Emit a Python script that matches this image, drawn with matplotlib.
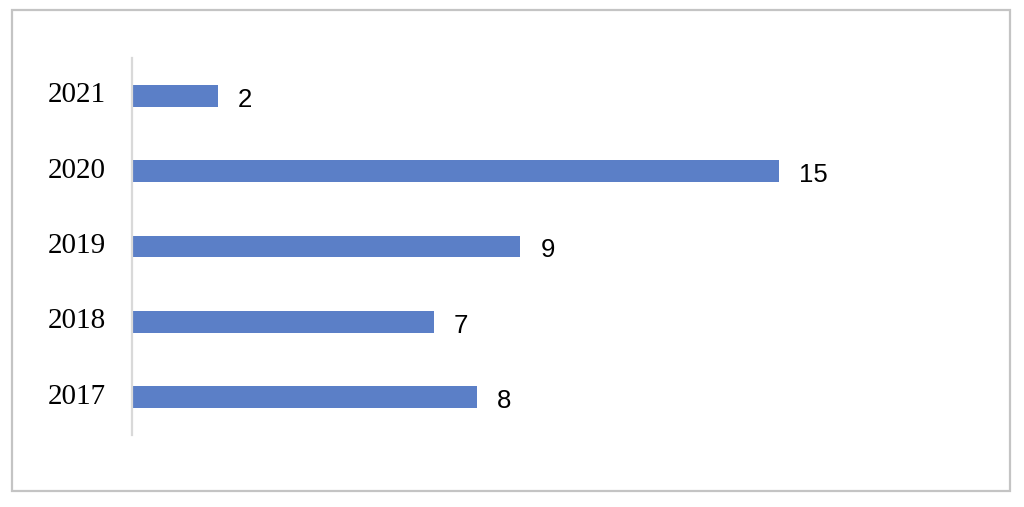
import matplotlib.pyplot as plt
from matplotlib.patches import Rectangle
from matplotlib.transforms import ScaledTranslation

years = ['2017', '2018', '2019', '2020', '2021']
counts = [8, 7, 9, 15, 2]

fig = plt.figure(figsize=(10.24, 5.07), dpi=100)
fig.patch.set_facecolor('white')

# light grey frame around the whole chart
fig.patches.append(Rectangle((12 / 1024, 16 / 507), 998 / 1024, 481 / 507,
                             transform=fig.transFigure, fill=False,
                             edgecolor='#C4C4C4', linewidth=1.6))

ax = fig.add_axes([132 / 1024, 72 / 507, 820 / 1024, 377 / 507])
pos = range(len(years))
ax.barh(pos, counts, height=0.29, color='#5B7FC7')

# value labels sit a little below the bar centre, as in the original
down = ScaledTranslation(0, -0.04, fig.dpi_scale_trans)
for y, v in zip(pos, counts):
    ax.text(v + 0.46, y, str(v), va='center', ha='left',
            fontsize=18.5, family='Liberation Sans', color='black',
            transform=ax.transData + down)

ax.set_xlim(0, 19)
ax.set_ylim(-0.5, 4.5)
ax.set_yticks(list(pos))
ax.set_yticklabels(years, family='Liberation Serif', fontsize=21)
ax.tick_params(axis='y', length=0, pad=19)
up = ScaledTranslation(0, 0.035, fig.dpi_scale_trans)
for lbl in ax.get_yticklabels():
    lbl.set_transform(lbl.get_transform() + up)
ax.set_xticks([])
for side in ['top', 'right', 'bottom']:
    ax.spines[side].set_visible(False)
ax.spines['left'].set_color('#D9D9D9')
ax.spines['left'].set_linewidth(1.6)

fig.savefig('out.png', dpi=100)
